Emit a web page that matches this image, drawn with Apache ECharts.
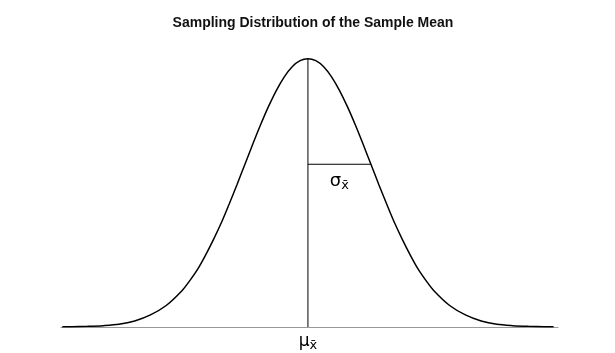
<!DOCTYPE html>
<html>
<head>
<meta charset="utf-8">
<script src="https://cdn.jsdelivr.net/npm/echarts@6/dist/echarts.min.js"></script>
<style>html,body{margin:0;padding:0;background:#fff}#c{width:615px;height:353px}</style>
</head>
<body>
<div id="c"></div>
<script>
// Curve points (x in standard errors, y density)
var curveX = [-3.9,-3.75,-3.5,-3.25,-3,-2.75,-2.5,-2.25,-2,-1.875,-1.75,-1.625,-1.5,-1.375,-1.25,-1.125,-1,-0.875,-0.75,-0.625,-0.5,-0.375,-0.25,-0.125,0,0.125,0.25,0.375,0.5,0.625,0.75,0.875,1,1.125,1.25,1.375,1.5,1.625,1.75,1.875,2,2.25,2.5,2.75,3,3.25,3.5,3.75,3.9];
var curveY = [0.0002,0.0004,0.001,0.002,0.004,0.009,0.018,0.032,0.054,0.069,0.086,0.107,0.130,0.155,0.183,0.212,0.242,0.272,0.301,0.328,0.352,0.372,0.387,0.396,0.399,0.396,0.387,0.372,0.352,0.328,0.301,0.272,0.242,0.212,0.183,0.155,0.130,0.107,0.086,0.069,0.054,0.032,0.018,0.009,0.004,0.002,0.001,0.0004,0.0002];
// Mean line and sigma line
var meanLineX = [0, 0];
var meanLineY = [0, 0.399];
var sigmaLineX = [0, 1];
var sigmaLineY = [0.242, 0.242];
var titleText = 'Sampling Distribution of the Sample Mean';

function pairs(xs, ys){ return xs.map(function(x,i){return [x, ys[i]];}); }

var chart = echarts.init(document.getElementById('c'), null, {renderer:'canvas'});
chart.setOption({
  animation:false,
  backgroundColor:'#fff',
  title:{
    text:titleText, left:308, top:11, textAlign:'center',
    textStyle:{fontFamily:'Liberation Sans, Arial, sans-serif', fontSize:14, fontWeight:'bold', color:'#111'}
  },
  grid:{left:61, width:497, top:58, height:269, containLabel:false},
  xAxis:{
    type:'value', min:-3.92, max:3.97,
    axisLine:{show:true, onZero:false, lineStyle:{color:'#999', width:1}},
    axisTick:{show:false}, axisLabel:{show:false}, splitLine:{show:false}
  },
  yAxis:{
    type:'value', min:0, max:0.4,
    axisLine:{show:false}, axisTick:{show:false}, axisLabel:{show:false}, splitLine:{show:false}
  },
  series:[
    {type:'line', data:pairs(curveX, curveY), smooth:0.3, showSymbol:false,
     lineStyle:{color:'#000', width:1.5}},
    {type:'line', data:pairs(meanLineX, meanLineY), showSymbol:false,
     lineStyle:{color:'#000', width:1}},
    {type:'line', data:pairs(sigmaLineX, sigmaLineY), showSymbol:false,
     lineStyle:{color:'#000', width:1},
     markPoint:{
       symbol:'circle', symbolSize:0,
       data:[{coord:[0.5, 0.242],
         label:{show:true, position:'inside', offset:[0,17],
           formatter:'{a|σ}{b|x̄}',
           rich:{a:{fontFamily:'DejaVu Sans, sans-serif', fontSize:18, color:'#000'},
                 b:{fontFamily:'DejaVu Sans, sans-serif', fontSize:13, color:'#000', padding:[8,0,0,0]}}}}]
     }},
    {type:'line', data:[[0,0]], showSymbol:false, lineStyle:{width:0},
     markPoint:{
       symbol:'circle', symbolSize:0,
       data:[{coord:[0, 0],
         label:{show:true, position:'inside', offset:[0,15],
           formatter:'{a|μ}{b|x̄}',
           rich:{a:{fontFamily:'DejaVu Sans, sans-serif', fontSize:17, color:'#000'},
                 b:{fontFamily:'DejaVu Sans, sans-serif', fontSize:13, color:'#000', padding:[8,0,0,0]}}}}]
     }}
  ]
});
</script>
</body>
</html>
